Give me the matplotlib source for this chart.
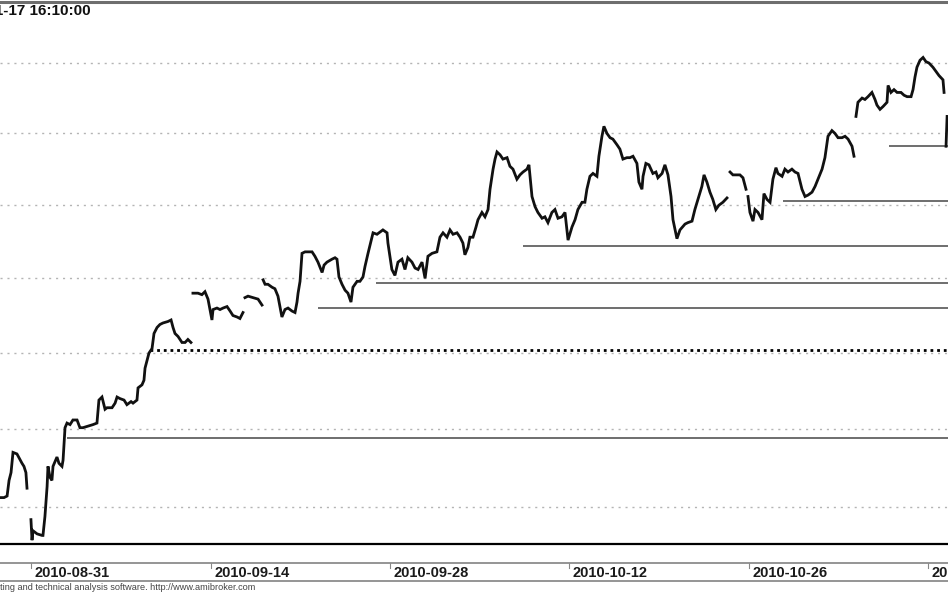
import numpy as np
import matplotlib
matplotlib.use("Agg")
import matplotlib.pyplot as plt
import matplotlib.transforms as mtransforms
from matplotlib.ticker import NullLocator

plt.rcParams["font.family"] = ["Liberation Sans", "DejaVu Sans"]

# price path
# x = trading days counted from 2010-08-31, None = gap between bars
days = [
    -1.74, -1.52, -1.35, -1.24, -1.13, -1.02, -0.80, -0.52, -0.41, -0.30, -0.24, None,
    -0.02, 0.04, 0.09, 0.32, 0.60, 0.65, 0.76, 0.88, 0.93, 1.04,
    1.15, 1.21, 1.43, 1.54, 1.71, 1.77, 1.88, 1.99, 2.16, 2.32,
    2.55, 2.71, 2.88, 3.16, 3.44, 3.66, 3.77, 3.94, 4.11, 4.22,
    4.50, 4.67, 4.78, 4.94, 5.17, 5.33, 5.56, 5.67, 5.89, 5.95,
    6.17, 6.28, 6.34, 6.45, 6.56, 6.73, 6.84, 7.01, 7.17, 7.34,
    7.62, 7.79, 7.90, 8.01, 8.18, 8.40, 8.57, 8.73, 8.90, None,
    9.01, 9.12, 9.29, 9.51, 9.68, 9.85,
    9.96, 10.07, 10.13, 10.35, 10.52, 10.69, 10.91, 11.08, 11.24, 11.47, 11.63, 11.80, None,
    11.91, 12.08, 12.36, 12.64, 12.86, None,
    12.92, 13.03, 13.19, 13.42, 13.58, 13.75, 13.86, 13.97, 14.14, 14.31,
    14.53, 14.70, 14.81, 14.87, 14.98, 15.09, 15.26, 15.42, 15.65, 15.81,
    15.98, 16.21, 16.32, 16.48, 16.76, 16.93, 17.04, 17.15, 17.32, 17.49,
    17.65, 17.82, 17.93, 18.16, 18.32, 18.49, 18.60, 18.77, 18.99, 19.05,
    19.27, 19.60, 19.83, 19.88, 19.99, 20.10, 20.27, 20.44, 20.66, 20.83,
    20.99, 21.22, 21.39, 21.56, 21.78, 21.95, 22.11, 22.34, 22.61, 22.78,
    22.95, 23.17, 23.34, 23.51, 23.73, 23.90, 24.06, 24.17, 24.34, 24.45,
    24.62, 24.79, 24.90, 25.12, 25.29, 25.46, 25.57, 25.74, 25.85, 25.96,
    26.13, 26.29, 26.52, 26.68, 26.85, 27.07, 27.24, 27.41, 27.63, 27.74,
    27.91, 28.08, 28.24, 28.47, 28.63, 28.80, 29.02, 29.19, 29.36, 29.58,
    29.75, 29.92, 30.14, 30.31, 30.47, 30.70, 30.86, 30.97, 31.14, 31.31,
    31.53, 31.64, 31.81, 31.92, 32.09, 32.26, 32.42, 32.65, 32.81, 32.98,
    33.20, 33.37, 33.54, 33.76, 33.87, 34.04, 34.10, 34.26, 34.43, 34.65,
    34.82, 34.93, 35.16, 35.32, 35.49, 35.66, 35.77, 35.99, 36.16, 36.44,
    36.60, 36.83, 36.99, 37.16, 37.38, 37.50, 37.66, 37.83, 37.99, 38.16,
    38.33, 38.55, 38.78, None,
    38.95, 39.11, 39.34, 39.50, 39.67, 39.84, None,
    39.95, 40.06, 40.23, 40.34, 40.51, 40.73, 40.84, 41.01, 41.18, 41.34,
    41.51, 41.62, 41.85, 42.01, 42.18, 42.40, 42.57, 42.74, 42.96, 43.13,
    43.30, 43.52, 43.69, 43.85, 44.08, 44.24, 44.41, 44.63, 44.80, 44.97,
    45.19, 45.36, 45.53, 45.75, 45.86, None,
    45.97, 46.08, 46.31, 46.47, 46.64, 46.86, 47.03, 47.14, 47.31, 47.48,
    47.70, 47.76, 47.92, 48.09, 48.26, 48.48, 48.65, 48.82, 49.04, 49.15,
    49.26, 49.37, 49.54, 49.71, 49.87, 50.04, 50.26, 50.43, 50.60, 50.82, 50.88, None,
    50.99, 51.05,
]
close = [
    2356, 2356, 2357, 2367, 2372, 2385, 2384, 2378, 2376, 2372, 2362, None,
    2342, 2329, 2335, 2333, 2332, 2332, 2344, 2363, 2376, 2369,
    2367, 2376, 2382, 2378, 2376, 2380, 2401, 2404, 2403, 2406,
    2406, 2401, 2401, 2402, 2403, 2404, 2419, 2421, 2413, 2414,
    2414, 2417, 2421, 2420, 2419, 2416, 2418, 2417, 2419, 2427,
    2429, 2432, 2440, 2445, 2450, 2453, 2463, 2467, 2469, 2470,
    2471, 2472, 2467, 2463, 2461, 2457, 2457, 2459, 2457, None,
    2490, 2490, 2490, 2489, 2491, 2486,
    2479, 2472, 2479, 2480, 2479, 2480, 2481, 2478, 2475, 2474, 2473, 2477, None,
    2487, 2488, 2487, 2486, 2482, None,
    2499, 2496, 2496, 2494, 2493, 2488, 2481, 2474, 2479, 2480,
    2478, 2477, 2484, 2490, 2498, 2517, 2518, 2518, 2518, 2515,
    2511, 2504, 2509, 2511, 2513, 2514, 2513, 2501, 2496, 2492,
    2490, 2484, 2494, 2498, 2498, 2501, 2508, 2517, 2528, 2531,
    2530, 2533, 2531, 2524, 2515, 2506, 2502, 2511, 2513, 2506,
    2514, 2511, 2507, 2506, 2511, 2500, 2515, 2517, 2518, 2528,
    2531, 2528, 2533, 2530, 2531, 2528, 2524, 2516, 2521, 2528,
    2528, 2535, 2540, 2545, 2542, 2547, 2561, 2575, 2582, 2587,
    2585, 2582, 2583, 2577, 2575, 2568, 2571, 2573, 2575, 2578,
    2556, 2549, 2545, 2541, 2542, 2538, 2545, 2547, 2541, 2542,
    2545, 2526, 2535, 2540, 2547, 2552, 2552, 2561, 2570, 2572,
    2570, 2584, 2598, 2605, 2600, 2597, 2596, 2592, 2589, 2582,
    2583, 2583, 2584, 2579, 2566, 2561, 2570, 2579, 2578, 2572,
    2573, 2569, 2572, 2578, 2571, 2556, 2540, 2527, 2533, 2537,
    2538, 2539, 2547, 2554, 2563, 2571, 2566, 2559, 2554, 2547,
    2550, 2552, 2555, None,
    2573, 2571, 2571, 2571, 2569, 2561, None,
    2556, 2545, 2539, 2547, 2545, 2540, 2558, 2554, 2552, 2568,
    2576, 2572, 2570, 2575, 2573, 2575, 2573, 2572, 2561, 2556,
    2557, 2559, 2563, 2568, 2575, 2583, 2598, 2602, 2600, 2597,
    2597, 2598, 2596, 2591, 2584, None,
    2612, 2622, 2625, 2624, 2626, 2629, 2624, 2620, 2617, 2619,
    2622, 2634, 2629, 2631, 2629, 2629, 2627, 2626, 2626, 2631,
    2640, 2647, 2652, 2654, 2651, 2650, 2647, 2644, 2641, 2638, 2629, None,
    2591, 2612,
]

# dotted price grid and the horizontal support lines
grid_levels = [2350, 2400, 2450, 2500, 2550, 2600, 2650]
support_levels = [2394, 2480, 2497, 2522, 2553, 2591]
support_start = [1.99, 15.98, 19.21, 27.41, 41.90, 47.81]
dotted_level = 2452
dotted_start = 6.62

tick_days = [0, 10, 20, 30, 40, 50]
tick_labels = ["2010-08-31", "2010-09-14", "2010-09-28",
               "2010-10-12", "2010-10-26", "2010-11-10"]
title = "2010-11-17 16:10:00"
footer = "AmiBroker - charting and technical analysis software. http://www.amibroker.com"

W, H = 948, 593
x_lo, x_hi = -1.745, 51.10

fig = plt.figure(figsize=(W / 100, H / 100), dpi=100)
ax = fig.add_axes([0, (H - 544) / H, 1, (544 - 1.5) / H])
ax.set_yscale("log")
ax.set_xlim(x_lo, x_hi)
ax.set_ylim(2326.6, 2694.5)

for axis in (ax.xaxis, ax.yaxis):
    axis.set_major_locator(NullLocator())
    axis.set_minor_locator(NullLocator())
ax.spines["left"].set_visible(False)
ax.spines["right"].set_visible(False)
ax.spines["bottom"].set_color("black")
ax.spines["bottom"].set_linewidth(1.6)
ax.spines["top"].set_color("#6e6e6e")
ax.spines["top"].set_linewidth(2.2)

for lv in grid_levels:
    ax.axhline(lv, color="#b4b4b4", lw=1.0, dashes=(1.5, 3.5), zorder=1)

ax.hlines(support_levels, support_start, x_hi, colors="#555555", lw=1.2, zorder=2)
ax.hlines(dotted_level, dotted_start, x_hi, colors="black", lw=2.0,
          linestyles=(0, (1, 1.4)), zorder=2)

ax.plot(np.array(days, dtype=float), np.array(close, dtype=float),
        color="#111111", lw=2.0, zorder=3, solid_joinstyle="miter")

# date axis band under the chart
for ypx in (563, 581):
    fig.add_artist(plt.Line2D([0, 1], [1 - ypx / H, 1 - ypx / H],
                              transform=fig.transFigure, color="#8c8c8c", lw=1.3))
trans = mtransforms.blended_transform_factory(ax.transData, fig.transFigure)
for d, lab in zip(tick_days, tick_labels):
    ax.plot([d, d], [1 - 563 / H, 1 - 568 / H], transform=trans, color="#888888",
            lw=0.8, clip_on=False)
    ax.annotate(lab, xy=(d, 1 - 573 / H), xycoords=trans, xytext=(2.5, 0),
                textcoords="offset points", ha="left", va="center", fontsize=10.5,
                fontweight="bold", color="#1a1a1a", annotation_clip=False)

fig.text(91 / W, 1 - 11 / H, title, ha="right", va="center", fontsize=11,
         fontweight="bold", color="#111111")
fig.text(255 / W, 1 - 588 / H, footer, ha="right", va="center", fontsize=6.55,
         color="#444444")

fig.savefig("out.png", dpi=100)
